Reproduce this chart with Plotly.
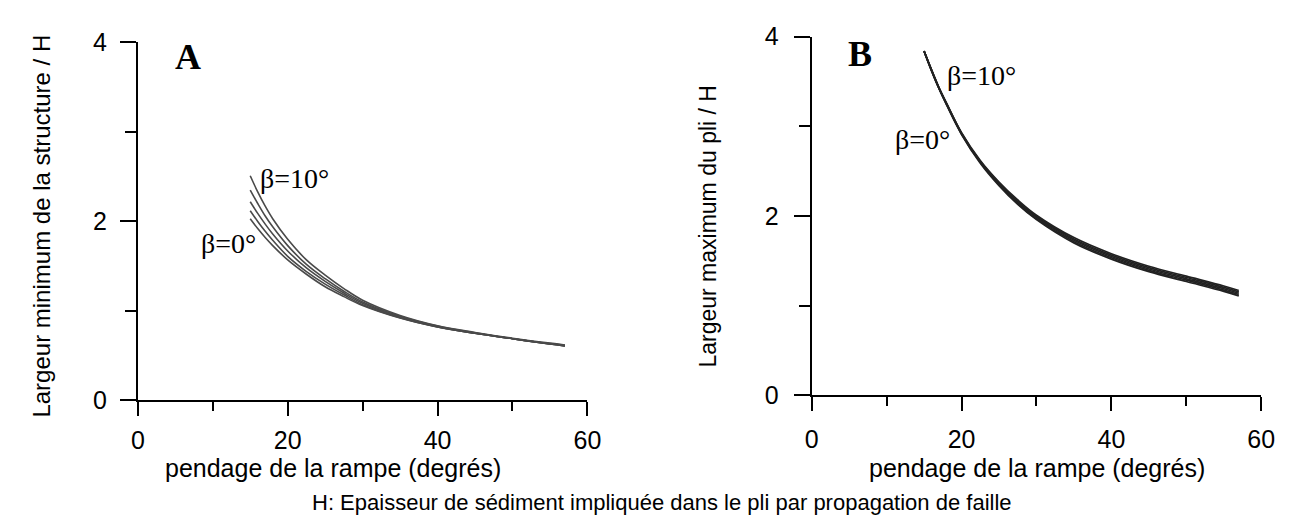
import plotly.graph_objects as go

# ---- data ----
ramp_dip = [15, 16, 17, 18, 20, 22.5, 25, 27.5, 30, 35, 40, 45, 50, 55, 57]

# Panel A: minimum structure width / H, for beta = 0, 2.5, 5, 7.5, 10 deg
min_width_b0 = [2.03, 1.92, 1.82, 1.73, 1.57, 1.41, 1.27, 1.16, 1.06, 0.92, 0.82, 0.75, 0.69, 0.63, 0.61]
min_width_b2 = [2.12, 2.00, 1.89, 1.79, 1.61, 1.44, 1.30, 1.18, 1.07, 0.925, 0.82, 0.75, 0.69, 0.63, 0.61]
min_width_b5 = [2.22, 2.09, 1.97, 1.86, 1.67, 1.48, 1.33, 1.20, 1.085, 0.93, 0.825, 0.75, 0.69, 0.63, 0.61]
min_width_b7 = [2.35, 2.20, 2.06, 1.94, 1.73, 1.52, 1.36, 1.22, 1.10, 0.94, 0.83, 0.755, 0.69, 0.635, 0.615]
min_width_b10 = [2.51, 2.33, 2.17, 2.03, 1.80, 1.57, 1.40, 1.25, 1.12, 0.95, 0.835, 0.76, 0.695, 0.64, 0.62]

# Panel B: maximum fold width / H
max_width_b0 = [3.84, 3.62, 3.42, 3.24, 2.91, 2.59, 2.34, 2.13, 1.96, 1.70, 1.52, 1.38, 1.27, 1.16, 1.11]
max_width_b2 = [3.84, 3.62, 3.42, 3.245, 2.915, 2.60, 2.35, 2.14, 1.97, 1.715, 1.535, 1.395, 1.285, 1.175, 1.125]
max_width_b5 = [3.84, 3.625, 3.425, 3.25, 2.92, 2.605, 2.36, 2.15, 1.985, 1.73, 1.55, 1.41, 1.30, 1.19, 1.14]
max_width_b7 = [3.84, 3.63, 3.43, 3.255, 2.925, 2.61, 2.37, 2.165, 1.995, 1.745, 1.565, 1.425, 1.315, 1.205, 1.155]
max_width_b10 = [3.84, 3.63, 3.43, 3.26, 2.93, 2.62, 2.38, 2.18, 2.01, 1.76, 1.58, 1.44, 1.33, 1.22, 1.17]

W, H = 1291, 530

fig = go.Figure()

for ys in [min_width_b0, min_width_b2, min_width_b5, min_width_b7, min_width_b10]:
    fig.add_trace(go.Scatter(x=ramp_dip, y=ys, mode="lines", xaxis="x", yaxis="y",
                             line=dict(color="#4a4a4a", width=1.6, shape="spline"),
                             showlegend=False, hoverinfo="skip"))
for ys in [max_width_b0, max_width_b2, max_width_b5, max_width_b7, max_width_b10]:
    fig.add_trace(go.Scatter(x=ramp_dip, y=ys, mode="lines", xaxis="x2", yaxis="y2",
                             line=dict(color="#222222", width=1.7, shape="spline"),
                             showlegend=False, hoverinfo="skip"))

def px(x):
    return x / W

def py(y):
    return 1 - y / H

tickfont = dict(family="Liberation Sans, Arial, sans-serif", size=25, color="black")

def axis_common(rng, dtick, minor_dtick, ticklen, minorlen, standoff):
    return dict(range=rng, dtick=dtick, tick0=0, showline=True,
                linecolor="black", linewidth=2, ticks="outside", ticklen=ticklen,
                tickwidth=2, tickcolor="black", showgrid=False, zeroline=False,
                tickfont=tickfont, ticklabelstandoff=standoff, fixedrange=True,
                minor=dict(dtick=minor_dtick, tick0=0, ticks="outside", ticklen=minorlen,
                           tickwidth=2, tickcolor="black", showgrid=False))

fig.update_layout(
    width=W, height=H,
    margin=dict(l=0, r=0, t=0, b=0),
    paper_bgcolor="white", plot_bgcolor="white",
    xaxis=dict(domain=[px(133), px(590)], anchor="y",
               **axis_common([0, 60], 20, 10, 14, 9, 3)),
    yaxis=dict(domain=[py(408), py(30)], anchor="x",
               **axis_common([0, 4], 2, 1, 16, 11, 8)),
    xaxis2=dict(domain=[px(818), px(1275)], anchor="y2",
                **axis_common([0, 60], 20, 10, 14, 9, 7)),
    yaxis2=dict(domain=[py(402.7), py(24)], anchor="x2",
                **axis_common([0, 4], 2, 1, 16, 11, 10)),
)

serif = "Liberation Serif, Times New Roman, serif"
sans = "Liberation Sans, Arial, sans-serif"

def ann(text, x, y, size, family, angle=0, bold=False):
    if bold:
        text = "<b>" + text + "</b>"
    fig.add_annotation(text=text, x=px(x), y=py(y), xref="paper", yref="paper",
                       xanchor="center", yanchor="middle", showarrow=False,
                       textangle=angle, font=dict(family=family, size=size, color="black"))

ann("A", 184, 45, 36, serif, bold=True)
ann("B", 867, 42, 36, serif, bold=True)
ann("β=10°", 292, 174, 28, serif)
ann("β=0°", 225, 242, 28, serif)
ann("β=10°", 991, 65, 28, serif)
ann("β=0°", 931, 133, 28, serif)
ann("pendage de la rampe (degrés)", 331, 479, 25, sans)
ann("pendage de la rampe (degrés)", 1047, 479, 25, sans)
ann("Largeur minimum de la structure / H", 35, 224, 24, sans, angle=-90)
ann("Largeur maximum du pli / H", 713, 224, 23, sans, angle=-90)
ann("H: Epaisseur de sédiment impliquée dans le pli par propagation de faille", 666, 516, 22, sans)

fig.write_html("out.html", post_script="document.body.style.margin='0';",
               config={"displayModeBar": False})
